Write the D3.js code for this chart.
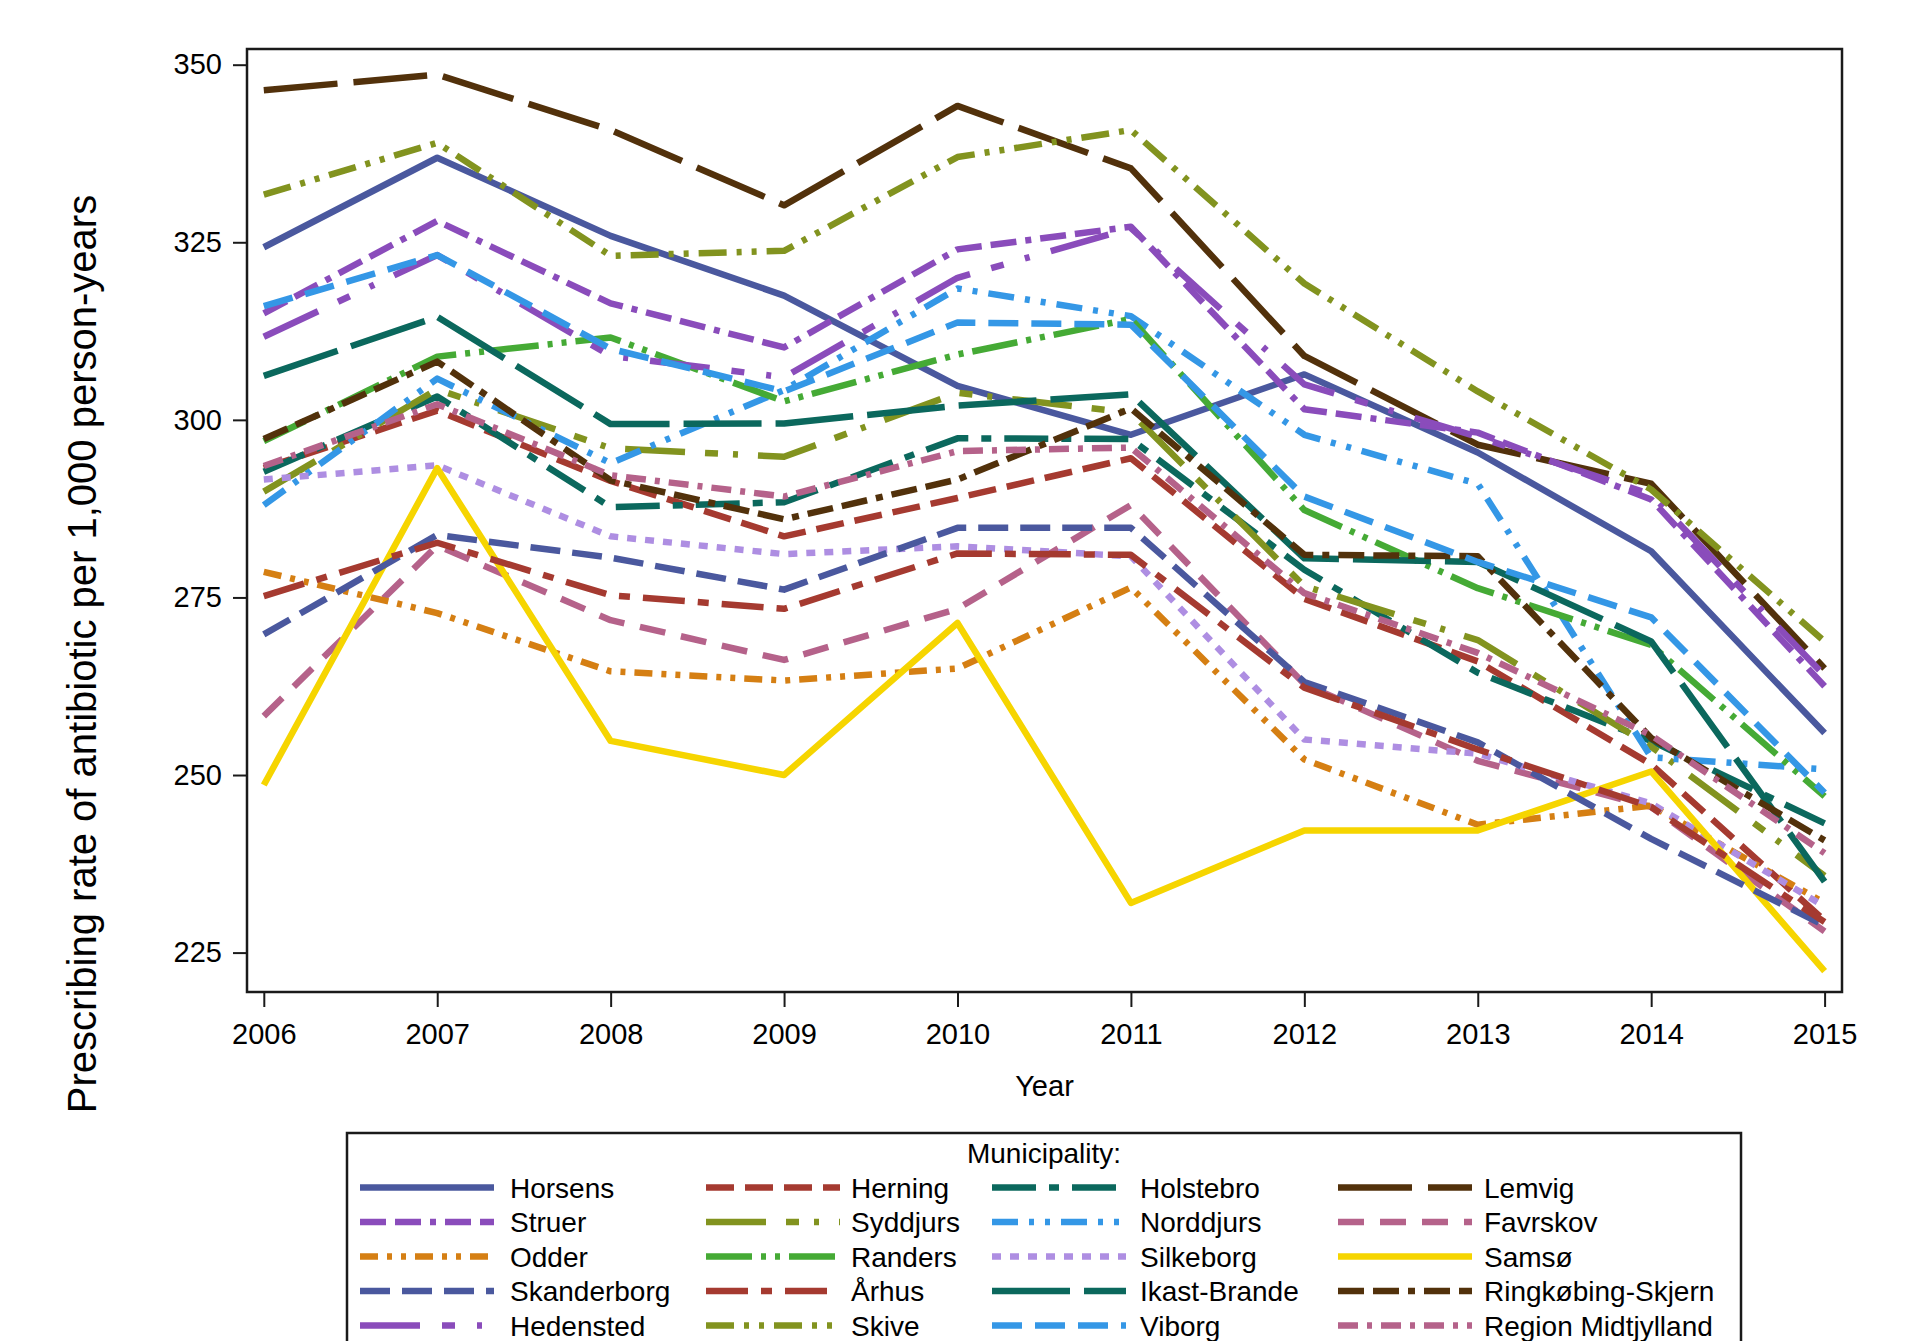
<!DOCTYPE html>
<html>
<head>
<meta charset="utf-8">
<script src="https://cdn.jsdelivr.net/npm/d3@7"></script>
<style>
  body { margin: 0; background: #fff; }
  svg { display: block; }
  text { font-family: "Liberation Sans", Arial, Helvetica, sans-serif; fill: #000; }
</style>
</head>
<body>
<svg id="chart" width="1915" height="1341"></svg>
<script>
// ---- data: prescribing rate per 1,000 person-years, 2006–2015 ----
const years = [2006, 2007, 2008, 2009, 2010, 2011, 2012, 2013, 2014, 2015];
const yTicks = [225, 250, 275, 300, 325, 350];

const horsens      = [324.3, 336.9, 325.9, 317.5, 304.8, 297.9, 306.4, 295.4, 281.5, 255.9];
const herning      = [293.2, 301.3, 291.4, 283.6, 289.0, 294.6, 274.8, 266.0, 251.5, 229.5];
const holstebro    = [292.7, 303.3, 287.7, 288.4, 297.4, 297.3, 278.9, 264.4, 254.8, 243.2];
const lemvig       = [346.4, 348.6, 340.8, 330.2, 344.2, 335.4, 309.0, 296.5, 291.0, 265.0];
const struer       = [315.0, 328.0, 316.4, 310.2, 324.0, 327.2, 301.5, 298.2, 288.8, 262.5];
const syddjurs     = [289.9, 304.3, 296.0, 294.8, 303.8, 301.0, 276.6, 269.0, 254.0, 235.8];
const norddjurs    = [288.0, 305.8, 293.9, 304.2, 318.5, 314.6, 297.9, 291.0, 252.5, 250.8];
const favrskov     = [258.3, 282.3, 271.8, 266.2, 273.4, 288.0, 262.8, 252.0, 245.5, 228.0];
const odder        = [278.6, 272.8, 264.6, 263.3, 265.0, 276.4, 252.2, 243.0, 245.7, 232.0];
const randers      = [297.0, 308.9, 311.6, 302.6, 309.2, 314.2, 287.3, 276.3, 268.3, 247.0];
const silkeborg    = [291.6, 293.6, 283.6, 281.1, 282.2, 280.8, 255.0, 253.0, 246.0, 231.5];
const samso        = [248.6, 293.2, 254.8, 250.0, 271.4, 232.0, 242.2, 242.2, 250.5, 222.4];
const skanderborg  = [269.8, 283.8, 280.6, 276.1, 284.8, 284.8, 263.1, 254.6, 241.0, 228.8];
const aarhus       = [275.2, 282.7, 275.3, 273.4, 281.2, 281.0, 262.3, 253.6, 245.5, 229.3];
const ikastBrande  = [306.2, 314.5, 299.4, 299.5, 302.0, 303.6, 280.5, 280.0, 268.8, 235.0];
const ringkobing   = [297.3, 308.2, 291.5, 286.0, 291.6, 301.6, 281.0, 280.8, 255.2, 240.8];
const hedensted    = [311.7, 323.2, 309.0, 306.0, 320.0, 327.0, 305.0, 297.6, 289.5, 264.0];
const skive        = [331.7, 339.0, 323.1, 323.8, 337.0, 340.8, 319.2, 304.0, 290.2, 268.8];
const viborg       = [316.0, 323.2, 310.0, 304.0, 313.7, 313.4, 289.2, 280.0, 272.2, 247.5];
const regionMidt   = [293.5, 302.2, 292.2, 289.2, 295.6, 296.1, 275.6, 267.2, 255.6, 239.0];

// group order (legend is filled row by row in this order)
const seriesNames = [
  "Horsens", "Herning", "Holstebro", "Lemvig",
  "Struer", "Syddjurs", "Norddjurs", "Favrskov",
  "Odder", "Randers", "Silkeborg", "Samsø",
  "Skanderborg", "Århus", "Ikast-Brande", "Ringkøbing-Skjern",
  "Hedensted", "Skive", "Viborg", "Region Midtjylland"
];
const seriesValues = [
  horsens, herning, holstebro, lemvig,
  struer, syddjurs, norddjurs, favrskov,
  odder, randers, silkeborg, samso,
  skanderborg, aarhus, ikastBrande, ringkobing,
  hedensted, skive, viborg, regionMidt
];

// ---- styles ----
const BLUE = "#4A589E", RED = "#A53A30", TEAL = "#0B685D", BROWN = "#52310B",
      PURPLE = "#8A4CBB", OLIVE = "#82931F", LBLUE = "#3497E6", MAUVE = "#B5628A",
      ORANGE = "#D57F13", GREEN = "#45AA35", LAVENDER = "#AE8EE2", YELLOW = "#F6D500";
const seriesColors = [
  BLUE, RED, TEAL, BROWN,
  PURPLE, OLIVE, LBLUE, MAUVE,
  ORANGE, GREEN, LAVENDER, YELLOW,
  BLUE, RED, TEAL, BROWN,
  PURPLE, OLIVE, LBLUE, MAUVE
];
const seriesDashes = [
  null, "28 11", "44 13 10 13", "74 16",
  "26 9 26 9 6 9", "60 20 13 15 5 20", "26 11 5 11 5 11", "26 16",
  "18 9 5 9 5 9", "46 9 5 9 5 9", "9 9", null,
  "30 12", "42 13 11 13", "78 14", "26 9 26 9 7 9",
  "60 22 13 22 5 22", "28 10 5 10 5 10", "30 13", "20 9 5 9"
];
const LINE_W = 6.5;

// ---- layout ----
const svg = d3.select("#chart");
const frame = { left: 247, top: 49, right: 1842, bottom: 992 };

const x = d3.scaleLinear().domain([2006, 2015]).range([263.8, 1824.6]);
const y = d3.scaleLinear().domain([225, 350]).range([952.6, 64.7]);

// series lines
const line = d3.line()
  .x((d, i) => x(years[i]))
  .y(d => y(d))
  .curve(d3.curveLinear);

const lines = svg.append("g").attr("class", "series");
seriesValues.forEach((vals, k) => {
  lines.append("path")
    .attr("d", line(vals))
    .attr("fill", "none")
    .attr("stroke", seriesColors[k])
    .attr("stroke-width", LINE_W)
    .attr("stroke-linejoin", "round")
    .attr("stroke-linecap", "butt")
    .attr("stroke-dasharray", seriesDashes[k]);
});

// plot frame
svg.append("rect")
  .attr("x", frame.left).attr("y", frame.top)
  .attr("width", frame.right - frame.left)
  .attr("height", frame.bottom - frame.top)
  .attr("fill", "none").attr("stroke", "#1a1a1a").attr("stroke-width", 2.5);

// axes
const yAxis = svg.append("g")
  .attr("transform", `translate(${frame.left},0)`)
  .call(d3.axisLeft(y).tickValues(yTicks).tickSize(14).tickPadding(11));
const xAxis = svg.append("g")
  .attr("transform", `translate(0,${frame.bottom})`)
  .call(d3.axisBottom(x).tickValues(years).tickFormat(d3.format("d")).tickSize(15).tickPadding(16));
[yAxis, xAxis].forEach(g => {
  g.select(".domain").remove();
  g.selectAll(".tick line").attr("stroke", "#1a1a1a").attr("stroke-width", 2);
  g.selectAll(".tick text")
    .attr("fill", "#000")
    .style("font-family", '"Liberation Sans", Arial, sans-serif')
    .style("font-size", "29px");
});

// axis titles
svg.append("text")
  .attr("x", (frame.left + frame.right) / 2)
  .attr("y", 1096)
  .attr("text-anchor", "middle")
  .style("font-size", "29px")
  .text("Year");

svg.append("text")
  .attr("transform", "translate(96,654) rotate(-90)")
  .attr("text-anchor", "middle")
  .style("font-size", "40px")
  .text("Prescribing rate of antibiotic per 1,000 person-years");

// ---- legend ----
const legend = svg.append("g").attr("class", "legend");
legend.append("rect")
  .attr("x", 347).attr("y", 1133)
  .attr("width", 1394).attr("height", 260)
  .attr("fill", "none").attr("stroke", "#1a1a1a").attr("stroke-width", 2.5);

legend.append("text")
  .attr("x", 1044).attr("y", 1163)
  .attr("text-anchor", "middle")
  .style("font-size", "28px")
  .text("Municipality:");

const colSample = [360, 706, 992, 1338];
const colLabel = [510, 851, 1140, 1484];
const SAMPLE_LEN = 134;
const rowY = r => 1187.5 + r * 34.5;

seriesNames.forEach((name, k) => {
  const c = k % 4, r = Math.floor(k / 4);
  const yy = rowY(r);
  legend.append("line")
    .attr("x1", colSample[c]).attr("x2", colSample[c] + SAMPLE_LEN)
    .attr("y1", yy).attr("y2", yy)
    .attr("stroke", seriesColors[k])
    .attr("stroke-width", LINE_W)
    .attr("stroke-linecap", "butt")
    .attr("stroke-dasharray", seriesDashes[k]);
  legend.append("text")
    .attr("x", colLabel[c]).attr("y", yy + 10)
    .style("font-size", "28px")
    .text(name);
});
</script>
</body>
</html>
